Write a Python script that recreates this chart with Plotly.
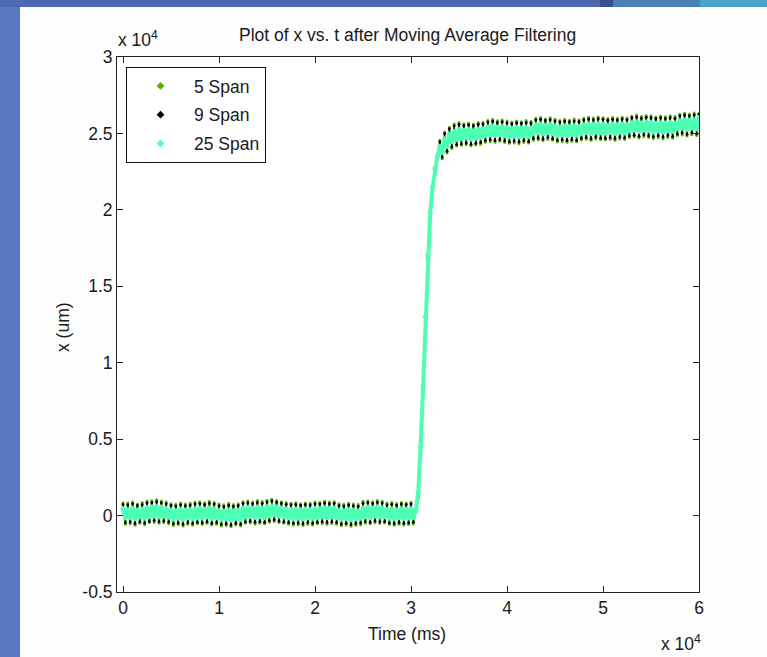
import plotly.graph_objects as go

# ---------------- data ----------------
t_ms = [i * 250 for i in range(241)]          # sample times, 0 .. 60000 ms

span25 = [
    430, -150, 380, -120, 460, -200, 350, -90, 410, -170,
    520, -60, 560, -20, 600, -90, 540, -40, 470, -110,
    360, -230, 310, -180, 400, -260, 340, -150, 380, -210,
    450, -130, 480, -160, 420, -100, 500, -190, 440, -140,
    330, -260, 290, -220, 370, -300, 300, -190, 350, -250,
    490, -100, 530, -60, 470, -130, 550, -80, 500, -120,
    580, -20, 640, 30, 560, -40, 490, -90, 430, -140,
    390, -200, 420, -170, 360, -230, 410, -150, 380, -190,
    470, -120, 440, -90, 510, -150, 460, -100, 490, -140,
    350, -240, 320, -200, 380, -270, 340, -210, 300, -180,
    500, -80, 540, -120, 480, -50, 560, -100, 510, -70,
    400, -170, 430, -210, 370, -150, 440, -190, 410, -160,
    450, -130,
    350, 1500, 4500, 8500, 13000, 17000, 19800, 21500, 22700, 23500,
    24150, 23750, 24650, 24150, 24950, 24450, 25150, 24600, 25250,
    24650, 25200, 24700, 25250, 24620, 25180, 24680, 25280, 24720, 25300,
    24850, 25420, 24900, 25480, 24860, 25400, 24920, 25450, 24840, 25380,
    24780, 25320, 24820, 25380, 24760, 25340, 24850, 25400, 24800, 25360,
    24990, 25560, 25020, 25600, 24960, 25520, 25050, 25580, 24980, 25500,
    24870, 25420, 24900, 25480, 24850, 25440, 24930, 25500, 24880, 25460,
    25000, 25560, 25060, 25620, 24980, 25580, 25080, 25640, 25020, 25600,
    25010, 25540, 25060, 25600, 24990, 25560, 25080, 25620, 25030, 25580,
    25160, 25700, 25200, 25760, 25130, 25680, 25230, 25740, 25170, 25720,
    25100, 25650, 25160, 25700, 25080, 25660, 25180, 25720, 25120, 25680,
    25290, 25830, 25340, 25880, 25260, 25840, 25360, 25900, 25300, 26050,
]

span9 = [
    730, -460, 700, -420, 770, -520, 660, -400, 720, -480,
    840, -370, 860, -330, 910, -390, 840, -350, 780, -420,
    670, -540, 620, -490, 710, -570, 650, -460, 690, -520,
    760, -440, 790, -470, 730, -410, 810, -500, 750, -450,
    640, -570, 600, -530, 680, -610, 610, -500, 660, -560,
    800, -410, 840, -370, 780, -440, 860, -390, 810, -430,
    890, -330, 950, -280, 870, -350, 800, -400, 740, -450,
    700, -510, 730, -480, 670, -540, 720, -460, 690, -500,
    780, -430, 750, -400, 820, -460, 770, -410, 800, -450,
    660, -550, 630, -510, 690, -580, 650, -520, 610, -490,
    810, -390, 850, -430, 790, -360, 870, -410, 820, -380,
    710, -480, 740, -520, 680, -460, 750, -500, 720, -470,
    760, -440,
    250, 1300, 4200, 8200, 12700, 16800, 19600, 21300, 22500, 23400,
    24450, 23450, 25000, 23830, 25300, 24130, 25500, 24280, 25600,
    24330, 25520, 24380, 25570, 24300, 25500, 24360, 25600, 24400, 25620,
    24530, 25740, 24580, 25800, 24540, 25720, 24600, 25770, 24520, 25700,
    24460, 25640, 24500, 25700, 24440, 25660, 24530, 25720, 24480, 25680,
    24670, 25880, 24700, 25920, 24640, 25840, 24730, 25900, 24660, 25820,
    24550, 25740, 24580, 25800, 24530, 25760, 24610, 25820, 24560, 25780,
    24680, 25880, 24740, 25940, 24660, 25900, 24760, 25960, 24700, 25920,
    24690, 25860, 24740, 25920, 24670, 25880, 24760, 25940, 24710, 25900,
    24840, 26020, 24880, 26080, 24810, 26000, 24910, 26060, 24850, 26040,
    24780, 25970, 24840, 26020, 24760, 25980, 24860, 26040, 24800, 26000,
    24970, 26150, 25020, 26200, 24940, 26160, 25040, 26220, 24980, 26250,
]

span5 = [
    840, -560, 820, -540, 880, -640, 760, -500, 850, -600,
    960, -470, 970, -450, 1040, -500, 950, -470, 880, -540,
    780, -650, 740, -590, 830, -690, 760, -570, 800, -640,
    870, -540, 910, -590, 840, -510, 930, -620, 860, -560,
    750, -680, 700, -650, 800, -720, 720, -610, 770, -680,
    910, -510, 950, -490, 890, -550, 980, -500, 920, -540,
    1010, -430, 1070, -390, 980, -460, 910, -510, 850, -560,
    810, -620, 840, -600, 780, -650, 830, -570, 800, -610,
    890, -540, 860, -520, 940, -570, 880, -520, 910, -560,
    770, -660, 740, -620, 800, -700, 760, -630, 720, -600,
    930, -500, 960, -540, 900, -470, 990, -520, 930, -490,
    820, -590, 850, -640, 790, -570, 860, -610, 830, -580,
    870, -550,
    200, 1100, 3900, 7900, 12400, 16600, 19400, 21100, 22300, 23300,
    24560, 23340, 25100, 23720, 25400, 24020, 25610, 24170, 25710,
    24220, 25630, 24260, 25690, 24190, 25610, 24240, 25720, 24290, 25730,
    24420, 25850, 24460, 25920, 24430, 25830, 24490, 25880, 24400, 25810,
    24350, 25750, 24380, 25820, 24330, 25770, 24410, 25840, 24370, 25790,
    24560, 25990, 24580, 26040, 24530, 25950, 24610, 26020, 24550, 25930,
    24440, 25850, 24460, 25920, 24420, 25870, 24490, 25940, 24450, 25890,
    24570, 25990, 24620, 26060, 24550, 26010, 24640, 26080, 24590, 26030,
    24580, 25970, 24620, 26040, 24560, 25990, 24640, 26060, 24600, 26010,
    24730, 26130, 24760, 26200, 24700, 26110, 24790, 26180, 24740, 26150,
    24670, 26080, 24720, 26140, 24650, 26090, 24740, 26160, 24690, 26110,
    24860, 26260, 24900, 26320, 24830, 26270, 24920, 26340, 24870, 26300,
]

series_names = ["5 Span", "9 Span", "25 Span"]
x_tick_vals = [0, 10000, 20000, 30000, 40000, 50000, 60000]
x_tick_text = ["0", "1", "2", "3", "4", "5", "6"]
y_tick_vals = [-5000, 0, 5000, 10000, 15000, 20000, 25000, 30000]
y_tick_text = ["-0.5", "0", "0.5", "1", "1.5", "2", "2.5", "3"]

# ---------------- styling / layout ----------------
W, H = 767, 657
ML, MR, MT, MB = 117, 68, 57, 65
PW, PH = W - ML - MR, H - MT - MB


def px(xp):
    return (xp - ML) / PW


def py(yp):
    return (H - MB - yp) / PH


FONT = "Liberation Sans, Arial, sans-serif"
FS = 17.5
TXT = "#1a1a1a"
colors = {"5 Span": "#55b000", "9 Span": "#000000", "25 Span": "#4dffb3"}
line_w = {"5 Span": 1, "9 Span": 1, "25 Span": 4}
mark_s = {"5 Span": 3, "9 Span": 3, "25 Span": 5}
data = {"5 Span": span5, "9 Span": span9, "25 Span": span25}

fig = go.Figure()
for name in series_names:
    fig.add_trace(go.Scatter(
        x=t_ms, y=data[name], mode="lines+markers", name=name,
        legendgroup=name, showlegend=False,
        line=dict(color=colors[name], width=line_w[name]),
        marker=dict(color=colors[name], size=mark_s[name]),
    ))
for name in series_names:
    fig.add_trace(go.Scatter(
        x=[None], y=[None], mode="markers", name=name, legendgroup=name,
        marker=dict(color=colors[name], size=6, symbol="diamond"),
    ))

axis_common = dict(
    showline=True, linecolor="#222222", linewidth=1, mirror="ticks",
    ticks="inside", ticklen=6, tickcolor="#222222", tickwidth=1,
    showgrid=False, zeroline=False,
    tickfont=dict(family=FONT, size=FS, color=TXT),
)
fig.update_xaxes(range=[-625, 60000], tickvals=x_tick_vals, ticktext=x_tick_text,
                 **axis_common)
fig.update_yaxes(range=[-5000, 30000], tickvals=y_tick_vals, ticktext=y_tick_text,
                 **axis_common)

shapes = [
    dict(type="rect", xref="paper", yref="paper", x0=px(0), x1=px(20), y0=py(H), y1=py(0),
         fillcolor="#5a78c0", line=dict(width=0), layer="below"),
    dict(type="rect", xref="paper", yref="paper", x0=px(0), x1=px(600), y0=py(7), y1=py(0),
         fillcolor="#4f69b3", line=dict(width=0), layer="below"),
    dict(type="rect", xref="paper", yref="paper", x0=px(600), x1=px(613), y0=py(7), y1=py(0),
         fillcolor="#3b4f90", line=dict(width=0), layer="below"),
    dict(type="rect", xref="paper", yref="paper", x0=px(613), x1=px(700), y0=py(7), y1=py(0),
         fillcolor="#4a80b2", line=dict(width=0), layer="below"),
    dict(type="rect", xref="paper", yref="paper", x0=px(700), x1=px(W), y0=py(7), y1=py(0),
         fillcolor="#4aa3c8", line=dict(width=0), layer="below"),
]

annotations = [
    dict(text="Plot of x vs. t after Moving Average Filtering", x=px(407), y=py(35)),
    dict(text="x 10<sup>4</sup>", x=px(116), y=py(39), xanchor="left"),
    dict(text="x 10<sup>4</sup>", x=px(659), y=py(643), xanchor="left"),
    dict(text="Time (ms)", x=px(407), y=py(634)),
    dict(text="x (um)", x=px(63), y=py(327), textangle=-90),
]
for a in annotations:
    a.setdefault("xanchor", "center")
    a.update(xref="paper", yref="paper", yanchor="middle", showarrow=False,
             font=dict(family=FONT, size=FS, color=TXT))

fig.update_layout(
    width=W, height=H, autosize=False,
    margin=dict(l=ML, r=MR, t=MT, b=MB, pad=0),
    paper_bgcolor="#fdfdfd", plot_bgcolor="#ffffff",
    shapes=shapes, annotations=annotations,
    showlegend=True,
    legend=dict(x=px(126), y=py(67), xanchor="left", yanchor="top",
                bgcolor="#ffffff", bordercolor="#111111", borderwidth=1,
                font=dict(family=FONT, size=FS, color=TXT),
                itemwidth=57, traceorder="grouped", tracegroupgap=3),
)

fig.write_html("out.html")
